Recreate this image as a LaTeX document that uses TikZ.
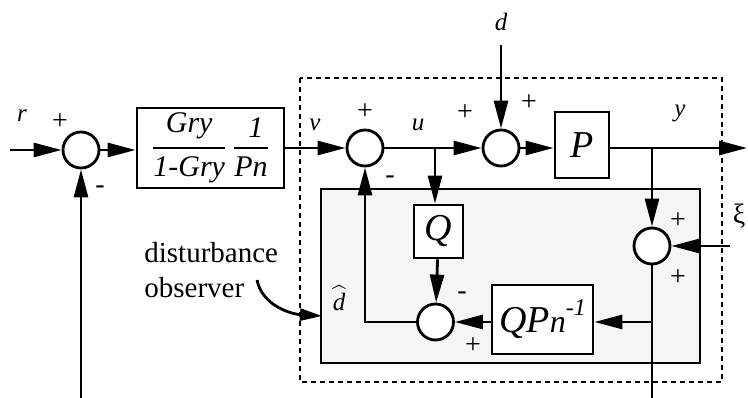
\documentclass[tikz,border=0pt]{standalone}
\usepackage{amsmath}
\usepackage{fontspec}
\setmainfont{Liberation Serif}
\usetikzlibrary{arrows.meta}

\begin{document}
\begin{tikzpicture}[x=1pt,y=-1pt,line width=2.8pt,
  >={Triangle[length=28pt,width=14pt]},
  sumnode/.style={draw,circle,fill=white,minimum size=36pt,inner sep=0pt},
  blk/.style={draw,fill=white,inner sep=0pt},
  lbl/.style={font=\fontsize{25}{28}\selectfont\itshape,inner sep=0pt},
  sgn/.style={font=\fontsize{28}{30}\selectfont,inner sep=0pt}]
\useasboundingbox (0,0) rectangle (748,398);
% boxes around the observer
\draw[line width=2.6pt,dash pattern=on 5pt off 4pt] (300,78) rectangle (722,382);
\draw[fill=black!4] (321,189) rectangle (700,363);
% summing points
\node[sumnode] (sumR) at (81,150) {};
\node[sumnode] (sumV) at (365,148) {};
\node[sumnode] (sumD) at (501,148) {};
\node[sumnode] (sumY) at (652,246) {};
\node[sumnode] (sumObs) at (435.5,322) {};
% blocks
\node[blk, minimum width=147pt, minimum height=80pt, font=\fontsize{30}{34}\selectfont] (gain) at (210.5,148)
  {$\genfrac{}{}{2.6pt}{0}{\text{\itshape Gry}}{\text{\itshape 1-Gry}}\;\genfrac{}{}{2.6pt}{0}{\text{\itshape\,\,1}}{\text{\itshape Pn}}$};
\node[blk, minimum width=54pt, minimum height=66pt, font=\fontsize{38}{40}\selectfont\itshape] (plant) at (582,145) {P};
\node[blk, minimum width=49pt, minimum height=53pt, font=\fontsize{38}{40}\selectfont\itshape] (qfilt) at (438.5,231.5) {Q};
\node[blk, minimum width=101pt, minimum height=69pt, font=\fontsize{38}{40}\selectfont\itshape] (qinv) at (542.5,319.5)
  {QP{\fontsize{32}{32}\selectfont n}\raisebox{17pt}{\fontsize{24}{24}\selectfont -1}};
% free ends and branch points
\coordinate (rIn) at (10,150);
\coordinate (rBot) at (81,398);
\coordinate (dIn) at (501,45);
\coordinate (yOut) at (747,148);
\coordinate (xiIn) at (730,246);
\coordinate (yBot) at (652,398);
\coordinate (uB) at (435,148);
\coordinate (yB) at (652,148);
\coordinate (fbB) at (652,322);
\coordinate (noteEnd) at (257,280);
\coordinate (noteTip) at (322,316);
% connectors
\draw[->] (rIn) -- (sumR);
\draw[->] (rBot) -- (sumR);
\draw[->] (sumR) -- (sumR -| gain.west);
\draw[->] (gain.east |- sumV) -- (sumV);
\draw[->] (sumV) -- (sumD);
\draw[->] (dIn) -- (sumD);
\draw[->] (sumD) -- (sumD -| plant.west);
\draw[->] (plant.east |- yOut) -- (yOut);
\draw[->] (yB) -- (sumY);
\draw[->] (xiIn) -- (sumY);
\draw (sumY) -- (yBot);
\draw[->] (fbB) -- (qinv.east |- fbB);
\draw[->] (qinv.west |- sumObs) -- (sumObs);
\draw[->] (uB) -- (uB |- qfilt.north);
\draw[->] (qfilt) -- (sumObs);
\draw[->] (sumObs) -| (sumV);
\draw[->, >={Triangle[length=22pt,width=12pt]}] (noteEnd) .. controls (262,305) and (290,314) .. (noteTip);
% labels
\node[lbl] (lr) at (22,116) {r};
\node[lbl] (lv) at (315,125) {v};
\node[lbl] (lu) at (418,125) {u};
\node[lbl] (ld) at (501,22) {d};
\node[lbl] (ly) at (680,113) {y};
\node[sgn] (lxi) at (739,216) {ξ};
\node[lbl] (ldhat) at (339,298) {$\widehat{\text{\itshape d}}$};
\node[sgn] (p1) at (60,122) {+};
\node[sgn] (m1) at (100,190) {-};
\node[sgn] (p2) at (365,112) {+};
\node[sgn] (m2) at (390,180) {-};
\node[sgn] (p3) at (465,113) {+};
\node[sgn] (p4) at (529,103) {+};
\node[sgn] (p5) at (678,221) {+};
\node[sgn] (p6) at (678,278) {+};
\node[sgn] (m3) at (462,296) {-};
\node[sgn] (p7) at (473,346) {+};
\node[align=left, anchor=west, inner sep=0pt, font=\fontsize{29}{35}\selectfont] (note) at (143,270) {disturbance\\observer};
\end{tikzpicture}
\end{document}
